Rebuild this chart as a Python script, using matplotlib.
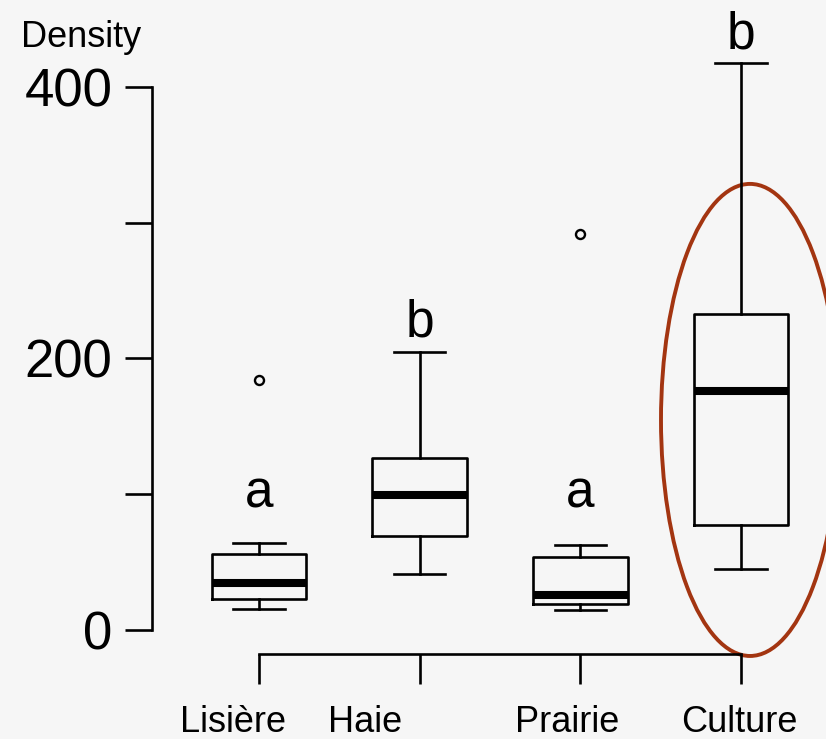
import matplotlib.pyplot as plt
from matplotlib.patches import Ellipse

plt.rcParams['font.family'] = ['Liberation Sans', 'DejaVu Sans']

habitats = ['Lisière', 'Haie', 'Prairie', 'Culture']
whisk_lo = [15.2, 41.0, 15.0, 45.0]
q1 = [23.1, 69.3, 19.2, 77.3]
medians = [34.3, 99.4, 25.5, 176.3]
q3 = [56.0, 126.7, 53.8, 232.5]
whisk_hi = [64.3, 204.8, 62.4, 417.7]
outliers = [[184.2], [], [291.7], []]
letters = ['a', 'b', 'a', 'b']
letter_y = [90, 216, 90, 428]
label_x = [0.838, 1.658, 2.92, 3.99]

stats = []
for i, name in enumerate(habitats):
    stats.append({'label': name, 'whislo': whisk_lo[i], 'q1': q1[i], 'med': medians[i],
                  'q3': q3[i], 'whishi': whisk_hi[i], 'fliers': outliers[i]})

bg = '#f6f6f6'
fig = plt.figure(figsize=(8.26, 7.39), dpi=100, facecolor=bg)
ax = fig.add_axes([152 / 826, 85 / 739, 1 - 152 / 826, 654 / 739])
ax.set_facecolor(bg)

lw = 1.9
positions = [1, 2, 3, 4]
ax.bxp(stats, positions=positions, widths=0.59, capwidths=0.32,
       boxprops=dict(color='black', linewidth=lw),
       whiskerprops=dict(color='black', linewidth=lw, linestyle='-'),
       capprops=dict(color='black', linewidth=lw),
       medianprops=dict(color='black', linewidth=5.8),
       flierprops=dict(marker='o', markersize=6.5, markerfacecolor='none',
                       markeredgecolor='black', markeredgewidth=1.7))

ax.set_xlim(0.334, 4.529)
ax.set_ylim(-17.7, 464)

for sp in ['top', 'right']:
    ax.spines[sp].set_visible(False)
ax.spines['left'].set_bounds(0, 400)
ax.spines['bottom'].set_bounds(1, 4)
ax.spines['left'].set_linewidth(lw)
ax.spines['bottom'].set_linewidth(lw)

ax.set_yticks([0, 100, 200, 300, 400], ['0', '', '200', '', '400'])
ax.tick_params(axis='y', length=19.5, width=lw, pad=9, labelsize=38)
ax.set_xticks(positions, [''] * 4)
ax.tick_params(axis='x', length=21.6, width=lw)

for x, name in zip(label_x, habitats):
    ax.text(x, -0.104, name, transform=ax.get_xaxis_transform(), ha='center',
            va='center', fontsize=26)

for x, t, y in zip(positions, letters, letter_y):
    ax.text(x, y, t, ha='center', va='baseline', fontsize=37)

ax.add_patch(Ellipse((4.056, 154.7), 1.108, 347.7, fill=False, edgecolor='#a33511',
                     linewidth=2.8, clip_on=False))

fig.text(81 / 826, 1 - 47 / 739, 'Density', ha='center', va='baseline', fontsize=26)

fig.savefig('out.png', dpi=100, facecolor=bg)
